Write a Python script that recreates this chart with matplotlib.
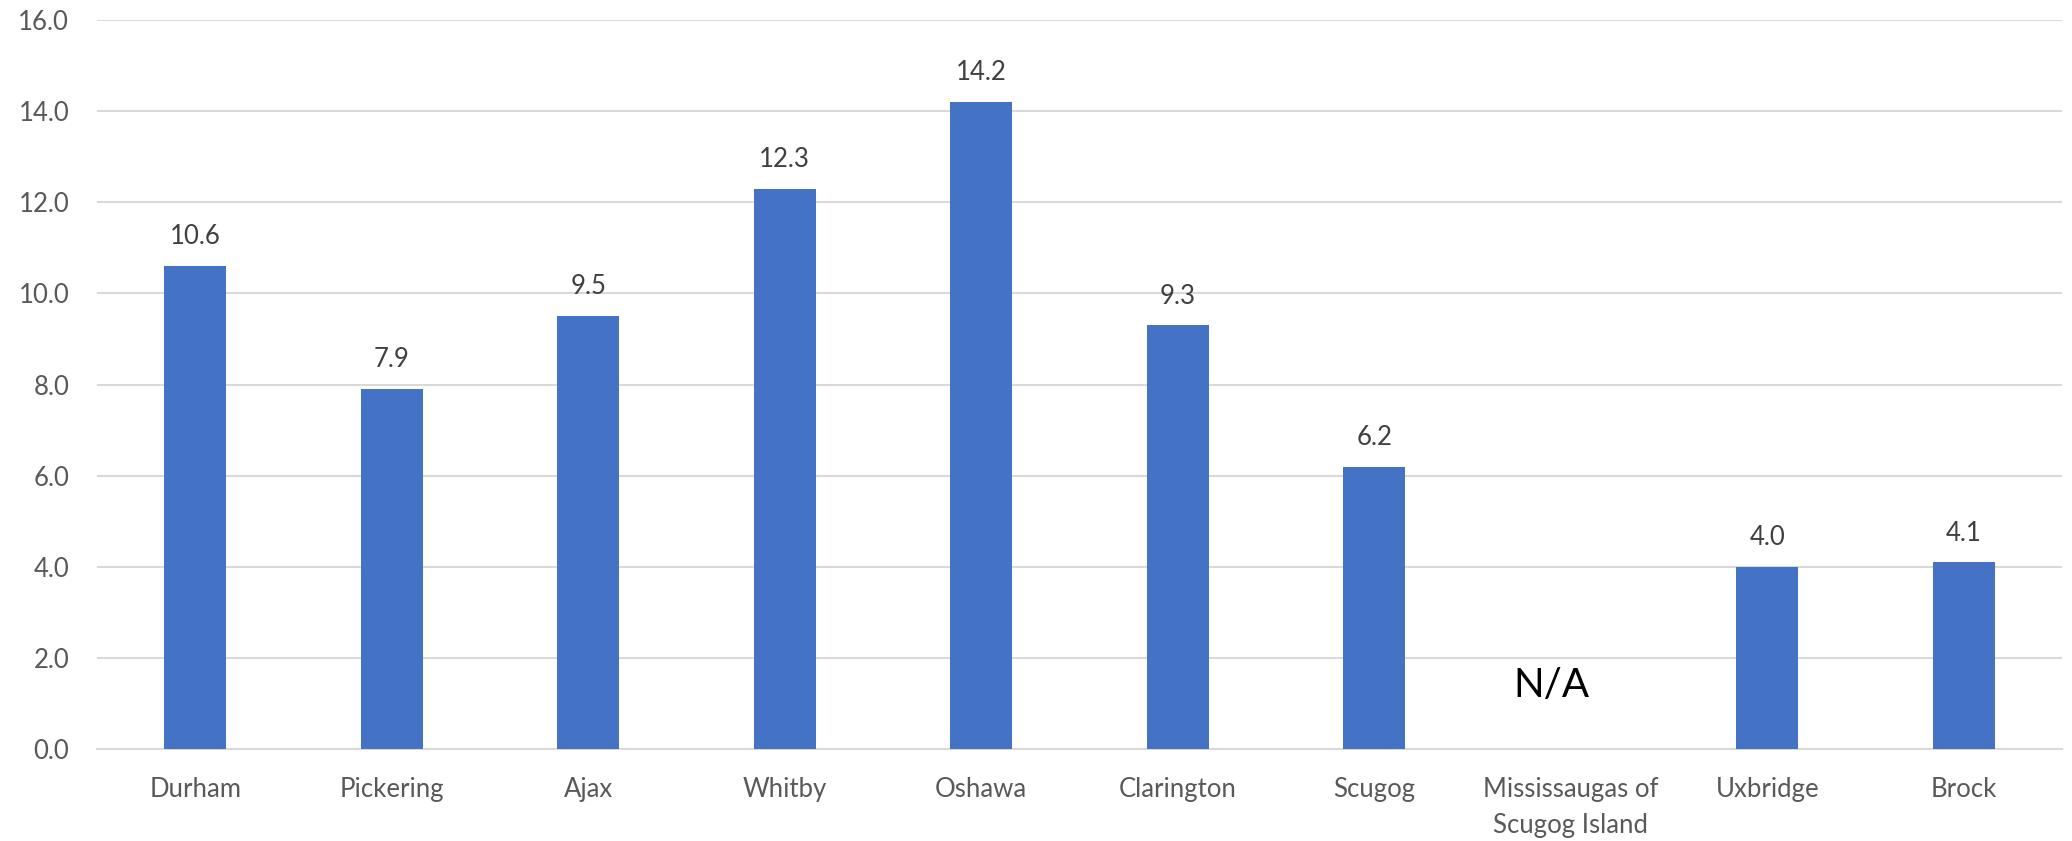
import numpy as np
import matplotlib.pyplot as plt

plt.rcParams['font.family'] = ['Lato', 'DejaVu Sans']

# data
areas = ['Durham', 'Pickering', 'Ajax', 'Whitby', 'Oshawa', 'Clarington', 'Scugog',
         'Mississaugas of\nScugog Island', 'Uxbridge', 'Brock']
values = [10.6, 7.9, 9.5, 12.3, 14.2, 9.3, 6.2, np.nan, 4.0, 4.1]
yticks = [0, 2, 4, 6, 8, 10, 12, 14, 16]

fig = plt.figure(figsize=(20.72, 8.41), dpi=100)
ax = fig.add_axes([0.0468, 0.1094, 0.9484, 0.8668])

x = np.arange(len(areas))
bars = ax.bar(x, values, width=0.315, color='#4472C4', zorder=3)

for xi, v in zip(x, values):
    if np.isnan(v):
        ax.text(xi - 0.1, 1.4, 'N/A', ha='center', va='center', fontsize=29, color='black')
    else:
        ax.annotate('%.1f' % v, (xi, v), xytext=(0, 12), textcoords='offset points',
                    ha='center', va='bottom', fontsize=18.5, color='#404040')

ax.set_xlim(-0.5, len(areas) - 0.5)
ax.set_ylim(0, 16)
ax.set_yticks(yticks)
ax.set_yticklabels(['%.1f' % t for t in yticks])
ax.set_xticks(x)
ax.set_xticklabels(areas, linespacing=1.55)

ax.grid(axis='y', color='#D9D9D9', linewidth=1.5, zorder=0)
for s in ['top', 'right', 'left']:
    ax.spines[s].set_visible(False)
ax.spines['bottom'].set_color('#D9D9D9')
ax.spines['bottom'].set_linewidth(1.5)
ax.tick_params(axis='both', length=0, labelsize=18.5, labelcolor='#595959')
ax.tick_params(axis='y', pad=20)
ax.tick_params(axis='x', pad=20)

fig.savefig('out.png', dpi=100)
